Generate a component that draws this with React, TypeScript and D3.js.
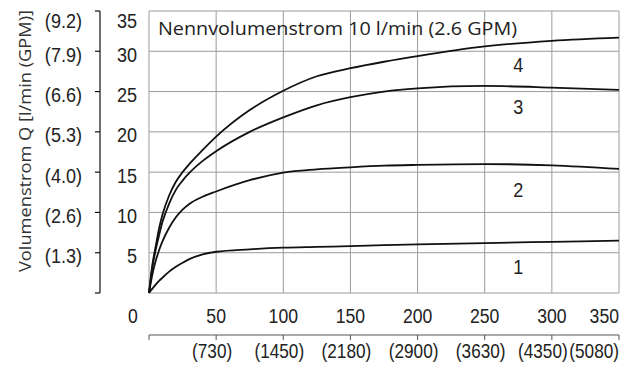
import React, { useEffect, useRef } from 'react';
import * as d3 from 'd3';

// flow (l/min) over pressure (bar), with PSI and GPM equivalents
const pressureTicks = [0, 50, 100, 150, 200, 250, 300, 350];
const psiLabels = ['(730)', '(1450)', '(2180)', '(2900)', '(3630)', '(4350)', '(5080)'];
const flowTicks = [5, 10, 15, 20, 25, 30, 35];
const gpmLabels = ['(1.3)', '(2.6)', '(4.0)', '(5.3)', '(6.6)', '(7.9)', '(9.2)'];

const pressure = [0, 2.5, 5, 7.5, 10, 15, 20, 25, 30, 40, 50, 75, 100, 125, 150, 175, 200, 250, 300, 350];
const curve1 = [0, 0.55, 1.05, 1.5, 1.9, 2.65, 3.25, 3.75, 4.2, 4.8, 5.12, 5.42, 5.62, 5.72, 5.82, 5.93, 6.03, 6.2, 6.35, 6.5];
const curve2 = [0, 2.3, 4.0, 5.3, 6.4, 8.1, 9.4, 10.35, 11.05, 11.95, 12.6, 14.0, 14.95, 15.35, 15.6, 15.8, 15.9, 16.0, 15.85, 15.4];
const curve3 = [0, 3.2, 5.35, 7.15, 8.8, 11.1, 12.8, 13.95, 14.9, 16.4, 17.6, 20.0, 21.8, 23.3, 24.3, 25.0, 25.4, 25.7, 25.5, 25.2];
const curve4 = [0, 3.5, 5.8, 8.0, 9.7, 12.1, 13.8, 15.0, 16.0, 17.75, 19.4, 22.7, 25.1, 26.9, 27.9, 28.7, 29.4, 30.6, 31.3, 31.7];
const series = [curve1, curve2, curve3, curve4];

const curveNames = ['1', '2', '3', '4'];
const labelPressure = [275, 275, 275, 275];
const labelFlow = [3.3, 12.8, 23.1, 28.3];

const title = 'Nennvolumenstrom 10 l/min (2.6 GPM)';
const yTitle = 'Volumenstrom Q [l/min (GPM)]';

const App = () => {
  const svgRef = useRef<SVGSVGElement>(null);

  useEffect(() => {
    const svg = d3.select(svgRef.current);
    svg.selectAll('*').remove();

    const width = 622;
    const height = 372;
    const left = 149, right = 619, top = 11, bottom = 293;
    const numFont = '"Liberation Sans", Arial, sans-serif';
    const textFont = '"Open Sans", "Noto Sans", sans-serif';
    const narrow = 0.86; // numbers are set in a condensed face

    svg.attr('width', width).attr('height', height);

    const x = d3.scaleLinear().domain([0, 350]).range([left, right]);
    const y = d3.scaleLinear().domain([0, 35]).range([bottom, top]);

    const g = svg.append('g');

    // grid
    g.append('g')
      .selectAll('line')
      .data(pressureTicks)
      .enter()
      .append('line')
      .attr('x1', d => x(d)).attr('x2', d => x(d))
      .attr('y1', top).attr('y2', bottom)
      .attr('stroke', '#9a9a9a').attr('stroke-width', 1);

    g.append('g')
      .selectAll('line')
      .data([0, ...flowTicks])
      .enter()
      .append('line')
      .attr('x1', left).attr('x2', right)
      .attr('y1', d => y(d)).attr('y2', d => y(d))
      .attr('stroke', '#9a9a9a').attr('stroke-width', 1);

    // title in plot
    g.append('text')
      .attr('x', 158).attr('y', 35)
      .attr('font-family', textFont)
      .attr('font-size', 18.5)
      .attr('fill', '#222')
      .attr('textLength', 359)
      .attr('lengthAdjust', 'spacingAndGlyphs')
      .text(title);

    // curves
    const line = d3.line<number>()
      .x((_, i) => x(pressure[i]))
      .y(d => y(d))
      .curve(d3.curveMonotoneX);

    g.append('g')
      .selectAll('path')
      .data(series)
      .enter()
      .append('path')
      .attr('d', d => line(d))
      .attr('fill', 'none')
      .attr('stroke', '#111')
      .attr('stroke-width', 1.8);

    g.append('g')
      .selectAll('text')
      .data(curveNames)
      .enter()
      .append('text')
      .attr('transform', (_, i) => `translate(${x(labelPressure[i])},${y(labelFlow[i]) + 7.5}) scale(${narrow},1)`)
      .attr('text-anchor', 'middle')
      .attr('font-family', numFont)
      .attr('font-size', 21)
      .attr('fill', '#222')
      .text(d => d);

    // l/min labels
    g.append('g')
      .selectAll('text')
      .data(flowTicks)
      .enter()
      .append('text')
      .attr('transform', d => `translate(137,${y(d) + (d === 35 ? 17 : 10.5)}) scale(${narrow},1)`)
      .attr('text-anchor', 'end')
      .attr('font-family', numFont)
      .attr('font-size', 21)
      .attr('fill', '#222')
      .text(d => d);

    // GPM axis
    const gpmAxis = g.append('g').attr('transform', 'translate(100,0)');
    gpmAxis.append('line')
      .attr('x1', 0).attr('x2', 0)
      .attr('y1', top).attr('y2', bottom)
      .attr('stroke', '#111').attr('stroke-width', 1.2);
    gpmAxis.selectAll('line.tick')
      .data([0, ...flowTicks])
      .enter()
      .append('line')
      .attr('class', 'tick')
      .attr('x1', -5).attr('x2', 0)
      .attr('y1', d => y(d)).attr('y2', d => y(d))
      .attr('stroke', '#111').attr('stroke-width', 1.2);
    gpmAxis.selectAll('text')
      .data(flowTicks)
      .enter()
      .append('text')
      .attr('transform', d => `translate(-18,${y(d) + (d === 35 ? 17 : 10.5)}) scale(${narrow},1)`)
      .attr('text-anchor', 'end')
      .attr('font-family', numFont)
      .attr('font-size', 21)
      .attr('fill', '#222')
      .text((_, i) => gpmLabels[i]);

    // y title
    g.append('text')
      .attr('transform', `translate(31,141) rotate(-90)`)
      .attr('text-anchor', 'middle')
      .attr('font-family', textFont)
      .attr('font-size', 17)
      .attr('fill', '#333')
      .attr('textLength', 262)
      .attr('lengthAdjust', 'spacingAndGlyphs')
      .text(yTitle);

    // bar labels
    g.append('g')
      .selectAll('text')
      .data(pressureTicks)
      .enter()
      .append('text')
      .attr('transform', d => `translate(${x(d) + (d === 0 ? -16 : 0)},323) scale(${narrow},1)`)
      .attr('text-anchor', d => (d === 350 ? 'end' : 'middle'))
      .attr('font-family', numFont)
      .attr('font-size', 20.5)
      .attr('fill', '#222')
      .text(d => d);

    // PSI axis
    const psiAxis = g.append('g').attr('transform', 'translate(0,335)');
    psiAxis.append('line')
      .attr('x1', left).attr('x2', right)
      .attr('stroke', '#555').attr('stroke-width', 1);
    psiAxis.selectAll('line.tick')
      .data(pressureTicks)
      .enter()
      .append('line')
      .attr('class', 'tick')
      .attr('x1', d => x(d)).attr('x2', d => x(d))
      .attr('y1', 0).attr('y2', 5)
      .attr('stroke', '#555').attr('stroke-width', 1);
    psiAxis.selectAll('text')
      .data(pressureTicks.slice(1))
      .enter()
      .append('text')
      .attr('transform', d => `translate(${x(d) + (d === 350 ? 0 : d === 300 ? -9 : -4)},23) scale(${narrow},1)`)
      .attr('text-anchor', d => (d === 350 ? 'end' : 'middle'))
      .attr('font-family', numFont)
      .attr('font-size', 20)
      .attr('fill', '#222')
      .text((_, i) => psiLabels[i]);
  }, []);

  return (
    <svg
      ref={svgRef}
      style={{ position: 'absolute', left: 0, top: 0, background: '#fff' }}
    />
  );
};

export default App;
